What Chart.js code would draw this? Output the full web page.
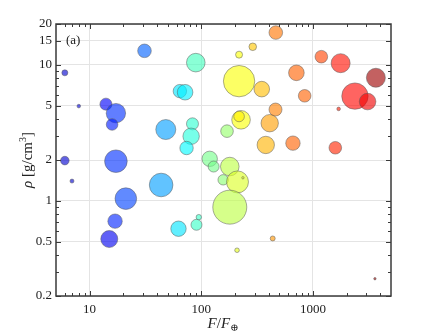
<!DOCTYPE html>
<html>
<head>
<meta charset="utf-8">
<script src="https://cdn.jsdelivr.net/npm/chart.js@4.4.0/dist/chart.umd.min.js"></script>
<style>
    body { margin: 0; background: #fff; }
    #densityChart { display: block; }
</style>
</head>
<body>
<canvas id="densityChart" width="432" height="334"></canvas>
<script>
/**
 * Planet density vs. incident flux - bubble chart (log-log)
 */

// Incident flux F/F_earth
const fluxF = [6.0, 8.0, 14.0, 17.2, 15.9, 31.0, 48.1, 6.0, 17.2, 64.3, 71.6, 89.3, 83.4, 81.1, 73.8,
    6.95, 21.1, 43.7, 16.9, 15.0, 62.5, 90.6, 95, 119, 129, 180, 157, 211, 180, 170, 227, 218,
    410, 378, 465, 289, 218, 218, 348, 711, 843, 1189, 1770, 3660, 2377, 3085, 1698, 462, 662,
    1586, 436, 209, 3590, 236];

// Bulk density rho [g/cm^3]
const density = [8.75, 4.98, 5.15, 4.42, 3.65, 12.7, 3.35, 1.98, 1.96, 6.42, 6.30, 10.4, 3.69, 2.99, 2.45,
    1.40, 1.04, 1.31, 0.71, 0.525, 0.625, 0.668, 0.76, 2.04, 1.79, 1.79, 1.43, 1.38, 0.90, 3.26, 3.95, 4.18,
    3.73, 2.58, 17.3, 13.6, 11.9, 7.6, 6.64, 8.75, 5.93, 11.5, 10.3, 8.05, 5.9, 5.38, 4.75, 4.70, 2.66,
    2.46, 0.53, 0.434, 0.268, 1.48];

// Bubble radius (third data dimension)
const bubbleR = [3, 1.8, 6, 9.7, 5.8, 6.8, 10, 4.3, 11.3, 6.7, 7.8, 9.3, 6, 8.2, 6.7,
    2, 10.8, 11.8, 7.2, 8.5, 7.7, 5.5, 2.7, 7.7, 5.5, 9.3, 5.2, 11, 17, 6.3, 9.3, 5.3,
    8.7, 8.7, 6.8, 3.8, 3.5, 15.7, 7.8, 7.8, 6.3, 6.3, 9.5, 9.5, 13.2, 8.3, 1.8, 6.5, 7.2,
    6.3, 2.5, 2.3, 1.2, 1.2];

// Colour variable (0..1), mapped through a jet colormap
const heat = [0.08, 0.09, 0.12, 0.17, 0.15, 0.22, 0.28, 0.08, 0.17, 0.35, 0.36, 0.44, 0.42, 0.41, 0.37,
    0.08, 0.19, 0.28, 0.16, 0.11, 0.35, 0.43, 0.43, 0.49, 0.49, 0.56, 0.51, 0.59, 0.56, 0.52, 0.62, 0.64,
    0.72, 0.70, 0.76, 0.68, 0.62, 0.62, 0.69, 0.78, 0.78, 0.81, 0.86, 0.97, 0.87, 0.89, 0.85, 0.75, 0.78,
    0.84, 0.73, 0.60, 0.97, 0.60];

// Axis ticks
const xMajor = [10, 100, 1000];
const xMinor = [6, 7, 8, 9, 20, 30, 40, 50, 60, 70, 80, 90, 200, 300, 400, 500, 600, 700, 800, 900, 2000, 3000, 4000];
const yMajor = [0.2, 0.5, 1, 2, 5, 10, 15, 20];
const yMinor = [0.3, 0.4, 0.6, 0.7, 0.8, 0.9, 3, 4, 6, 7, 8, 9];

const SERIF = '"Liberation Serif", "DejaVu Serif", serif';
const FRAME = '#3a3a3a';

function jet(t) {
    const c = v => Math.round(255 * Math.max(0, Math.min(1, v)));
    return [c(1.5 - Math.abs(4 * t - 3)), c(1.5 - Math.abs(4 * t - 2)), c(1.5 - Math.abs(4 * t - 1))];
}

const points = fluxF.map((f, i) => ({ x: f, y: density[i], r: bubbleR[i] }));
const fills = heat.map(t => {
    const [r, g, b] = jet(t);
    return `rgba(${r}, ${g}, ${b}, 0.62)`;
});

function setTicks(majors, minors) {
    return function(scale) {
        scale.ticks = majors.concat(minors).sort((a, b) => a - b)
            .map(v => ({ value: v, major: majors.includes(v) }));
    };
}

/**
 * Frame, inward tick marks, panel label and axis titles
 */
const framePlugin = {
    id: 'frame',
    afterDraw(chart) {
        const { ctx, chartArea: a, scales } = chart;
        ctx.save();
        ctx.strokeStyle = FRAME;
        ctx.lineWidth = 1;

        // tick marks on all four sides
        const tick = (x1, y1, x2, y2) => {
            ctx.beginPath();
            ctx.moveTo(x1, y1);
            ctx.lineTo(x2, y2);
            ctx.stroke();
        };
        xMajor.concat(xMinor).forEach(v => {
            const x = Math.round(scales.x.getPixelForValue(v)) + 0.5;
            const len = xMajor.includes(v) ? 5 : 3;
            tick(x, a.bottom, x, a.bottom - len);
            tick(x, a.top, x, a.top + len);
        });
        yMajor.concat(yMinor).forEach(v => {
            const y = Math.round(scales.y.getPixelForValue(v)) + 0.5;
            const len = yMajor.includes(v) ? 5 : 3;
            tick(a.left, y, a.left + len, y);
            tick(a.right, y, a.right - len, y);
        });

        // box
        ctx.lineWidth = 1.5;
        ctx.strokeRect(a.left, a.top, a.right - a.left, a.bottom - a.top);

        ctx.fillStyle = '#222';
        ctx.textBaseline = 'alphabetic';

        // panel label
        ctx.font = `13px ${SERIF}`;
        ctx.textAlign = 'left';
        ctx.fillText('(a)', 66, 44);

        // x title: F / F_(+)
        const parts = [
            { t: 'F', f: `italic 15px ${SERIF}`, dy: 0 },
            { t: '/', f: `15px ${SERIF}`, dy: 0 },
            { t: 'F', f: `italic 15px ${SERIF}`, dy: 0 },
            { t: '\u2295', f: `10px ${SERIF}`, dy: 3 }
        ];
        drawRun(ctx, parts, 223, 328);

        // y title: rho [g/cm^3], rotated
        ctx.translate(27, 160);
        ctx.rotate(-Math.PI / 2);
        const yparts = [
            { t: '\u03c1', f: `italic 15px ${SERIF}`, dy: 0 },
            { t: ' [g/cm', f: `15px ${SERIF}`, dy: 0 },
            { t: '3', f: `10px ${SERIF}`, dy: -6 },
            { t: ']', f: `15px ${SERIF}`, dy: 0 }
        ];
        drawRun(ctx, yparts, 0, 5);
        ctx.restore();
    }
};

function drawRun(ctx, parts, cx, baseline) {
    ctx.textAlign = 'left';
    let total = 0;
    parts.forEach(p => { ctx.font = p.f; p.w = ctx.measureText(p.t).width; total += p.w; });
    let x = cx - total / 2;
    parts.forEach(p => {
        ctx.font = p.f;
        ctx.fillText(p.t, x, baseline + p.dy);
        x += p.w;
    });
}

const densityChart = new Chart(document.getElementById('densityChart'), {
    type: 'bubble',
    data: {
        datasets: [{
            data: points,
            backgroundColor: fills,
            borderColor: 'rgba(90, 90, 90, 0.5)',
            borderWidth: 1,
            hoverRadius: 0
        }]
    },
    options: {
        responsive: false,
        animation: false,
        devicePixelRatio: 1,
        layout: { padding: { top: 24, right: 41, left: 0, bottom: 0 } },
        plugins: {
            legend: { display: false },
            tooltip: { enabled: false }
        },
        scales: {
            x: {
                type: 'logarithmic',
                min: 5,
                max: 5000,
                afterBuildTicks: setTicks(xMajor, xMinor),
                afterFit: scale => { scale.height = 38; },
                border: { display: false },
                grid: {
                    drawTicks: false,
                    color: c => (c.tick && xMajor.includes(c.tick.value)) ? '#e4e4e4' : 'rgba(0,0,0,0)'
                },
                ticks: {
                    autoSkip: false,
                    maxRotation: 0,
                    padding: 6,
                    color: '#222',
                    font: { family: SERIF, size: 13 },
                    callback: v => xMajor.includes(v) ? String(v) : ''
                }
            },
            y: {
                type: 'logarithmic',
                min: 0.2,
                max: 20,
                afterBuildTicks: setTicks(yMajor, yMinor),
                afterFit: scale => { scale.width = 56; },
                border: { display: false },
                grid: {
                    drawTicks: false,
                    color: c => (c.tick && yMajor.includes(c.tick.value)) ? '#e4e4e4' : 'rgba(0,0,0,0)'
                },
                ticks: {
                    autoSkip: false,
                    padding: 4,
                    color: '#222',
                    font: { family: SERIF, size: 13 },
                    callback: v => yMajor.includes(v) ? String(v) : ''
                }
            }
        }
    },
    plugins: [framePlugin]
});
</script>
</body>
</html>
